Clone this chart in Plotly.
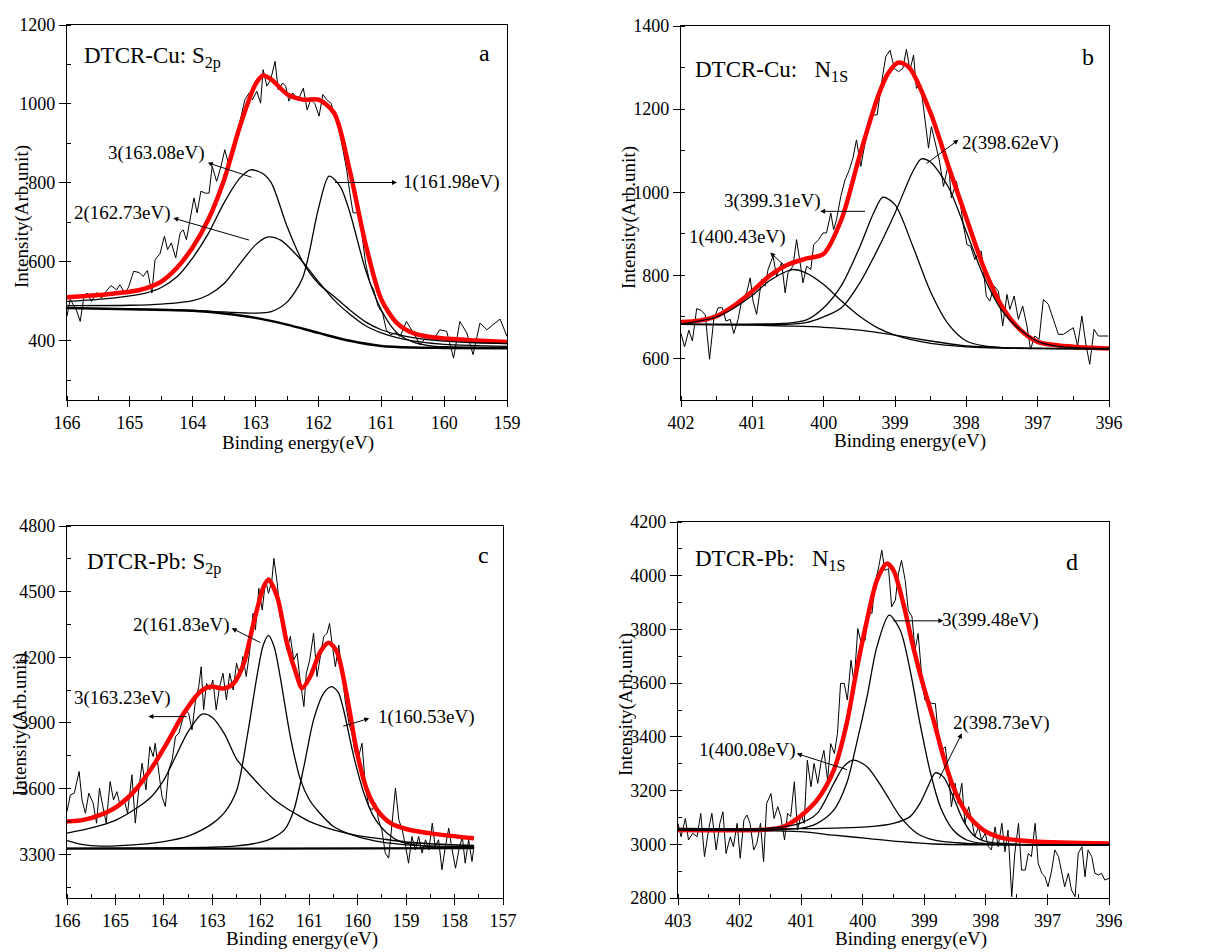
import plotly.graph_objects as go

# ---------------- Panel a : DTCR-Cu S2p ----------------
a_raw_x = [166.0, 165.95, 165.85, 165.79, 165.73, 165.68, 165.61, 165.53, 165.45, 165.38, 165.30, 165.21, 165.16,
           165.08, 165.02, 164.94, 164.85, 164.79, 164.72, 164.65, 164.60, 164.52, 164.45, 164.40, 164.34, 164.27,
           164.20, 164.15, 164.10, 164.03, 163.98, 163.93, 163.87, 163.80, 163.74, 163.69, 163.62, 163.55, 163.49,
           163.42, 163.35, 163.29, 163.24, 163.17, 163.10, 163.05, 162.98, 162.92, 162.88, 162.82, 162.76, 162.69,
           162.64, 162.57, 162.52, 162.47, 162.41, 162.32, 162.24, 162.18, 162.12, 162.06, 161.99, 161.93, 161.87,
           161.80, 161.75, 161.70, 161.63, 161.55, 161.50, 161.45, 161.38, 161.31, 161.25, 161.18, 161.12, 161.05,
           160.98, 160.92, 160.85, 160.78, 160.70, 160.60, 160.49, 160.38, 160.28, 160.17, 160.07, 159.96, 159.85,
           159.75, 159.64, 159.54, 159.43, 159.32, 159.22, 159.11, 159.00]
a_raw_y = [462, 505, 478, 449, 512, 521, 500, 522, 508, 525, 540, 529, 542,
           521, 536, 576, 573, 563, 578, 521, 605, 621, 665, 631, 648, 610,
           673, 681, 656, 715, 762, 724, 779, 774, 774, 842, 804, 842, 884,
           842, 893, 926, 960, 1011, 1028, 1011, 1032, 1002, 1087, 1045, 1061, 1108,
           1036, 1053, 1045, 1007, 1028, 1011, 1040, 985, 1011, 1002, 969, 1024, 1011,
           1002, 977, 964, 901, 833, 774, 724, 724, 673, 597, 546, 529, 487,
           470, 428, 415, 420, 411, 449, 420, 390, 411, 403, 428, 424, 356,
           449, 420, 365, 445, 428, 441, 455, 411]
a_fit_x = [166.0, 165.75, 165.5, 165.25, 165.0, 164.75, 164.5, 164.25, 164.0, 163.75, 163.5, 163.25, 163.0,
           162.88, 162.75, 162.5, 162.25, 162.0, 161.75, 161.5, 161.25, 161.0, 160.75, 160.5, 160.25, 160.0,
           159.5, 159.0]
a_fit_y = [510, 513, 516, 520, 524, 533, 550, 585, 637, 708, 808, 943, 1050,
           1072, 1062, 1025, 1011, 1011, 977, 830, 645, 505, 445, 420, 410, 406,
           401, 397]
a_c3_x = [166.0, 165.5, 165.0, 164.75, 164.5, 164.25, 164.0, 163.75, 163.5, 163.25, 163.08, 162.9, 162.75,
          162.5, 162.25, 162.0, 161.75, 161.5, 161.25, 161.0, 160.75, 160.5, 160.0, 159.5, 159.0]
a_c3_y = [500, 505, 514, 521, 535, 562, 610, 672, 750, 812, 833, 825, 800,
          690, 600, 545, 512, 478, 448, 428, 416, 408, 399, 395, 393]
a_c2_x = [166.0, 165.0, 164.5, 164.0, 163.75, 163.5, 163.25, 163.0, 162.8, 162.6, 162.5, 162.25, 162.0,
          161.75, 161.5, 161.25, 161.0, 160.75, 160.5, 160.0, 159.5, 159.0]
a_c2_y = [489, 490, 493, 502, 516, 545, 595, 643, 663, 655, 642, 600, 550,
          503, 467, 438, 420, 408, 400, 391, 388, 386]
a_c1_x = [166.0, 165.0, 164.0, 163.5, 163.0, 162.75, 162.5, 162.25, 162.0, 161.83, 161.65, 161.5, 161.25,
          161.0, 160.75, 160.5, 160.25, 160.0, 159.0]
a_c1_y = [483, 481, 477, 473, 470, 474, 498, 560, 735, 817, 790, 725, 580,
          478, 420, 397, 388, 385, 383]
a_bg_x = [166.0, 165.0, 164.0, 163.5, 163.0, 162.5, 162.0, 161.5, 161.0, 160.5, 160.0, 159.0]
a_bg_y = [483, 480, 476, 469, 458, 441, 420, 400, 387, 383, 382, 381]

# ---------------- Panel b : DTCR-Cu N1s ----------------
b_raw_x = [402.00, 401.95, 401.89, 401.84, 401.78, 401.72, 401.66, 401.60, 401.54, 401.48, 401.42, 401.37, 401.31,
           401.26, 401.20, 401.15, 401.08, 401.03, 400.99, 400.94, 400.87, 400.82, 400.78, 400.71, 400.66, 400.59,
           400.54, 400.50, 400.43, 400.38, 400.33, 400.29, 400.24, 400.18, 400.14, 400.07, 400.01, 399.96, 399.90,
           399.86, 399.82, 399.76, 399.70, 399.64, 399.59, 399.54, 399.48, 399.42, 399.36, 399.30, 399.25, 399.19,
           399.13, 399.07, 399.01, 398.95, 398.89, 398.84, 398.79, 398.74, 398.70, 398.64, 398.58, 398.53, 398.49,
           398.43, 398.38, 398.32, 398.25, 398.21, 398.14, 398.09, 398.04, 397.99, 397.94, 397.88, 397.83, 397.79,
           397.72, 397.67, 397.61, 397.55, 397.49, 397.43, 397.39, 397.33, 397.27, 397.21, 397.15, 397.10, 397.04,
           396.98, 396.92, 396.85, 396.78, 396.71, 396.64, 396.57, 396.50, 396.44, 396.38, 396.32, 396.27, 396.21,
           396.15, 396.08, 396.01]
b_raw_y = [660, 628, 668, 642, 720, 716, 705, 598, 694, 722, 722, 690, 694,
           660, 694, 738, 758, 794, 738, 706, 790, 774, 814, 846, 798, 830,
           758, 806, 822, 886, 830, 782, 822, 814, 874, 886, 902, 902, 950,
           910, 934, 990, 1030, 1054, 1082, 1126, 1062, 1118, 1174, 1186, 1186, 1262,
           1326, 1342, 1298, 1290, 1298, 1344, 1294, 1330, 1250, 1258, 1174, 1106, 1158,
           1110, 1078, 1014, 1070, 986, 1026, 982, 918, 874, 870, 838, 854, 858,
           750, 738, 774, 762, 678, 754, 718, 750, 694, 726, 678, 622, 654,
           646, 742, 730, 694, 658, 658, 666, 674, 630, 702, 630, 586, 670,
           654, 654, 654]
b_fit_x = [402.0, 401.75, 401.5, 401.25, 401.0, 400.75, 400.5, 400.25, 400.0, 399.75, 399.5, 399.25, 399.1,
           398.95, 398.8, 398.5, 398.25, 398.0, 397.75, 397.5, 397.25, 397.0, 396.5, 396.0]
b_fit_y = [688, 691, 702, 728, 762, 800, 826, 840, 852, 935, 1085, 1225, 1285,
           1312, 1300, 1190, 1062, 938, 816, 725, 670, 640, 628, 624]
b_c1_x = [402.0, 401.75, 401.5, 401.25, 401.0, 400.75, 400.5, 400.43, 400.25, 400.0, 399.75, 399.5, 399.25,
          399.0, 398.5, 398.0, 397.5, 396.0]
b_c1_y = [683, 690, 700, 722, 752, 788, 811, 814, 806, 778, 738, 702, 674,
          656, 636, 628, 625, 623]
b_c3_x = [402.0, 400.5, 400.25, 400.0, 399.75, 399.5, 399.3, 399.17, 399.0, 398.75, 398.5, 398.25, 398.0,
          397.75, 397.5, 397.0, 396.0]
b_c3_y = [683, 685, 692, 722, 776, 866, 950, 988, 970, 870, 760, 682, 642,
          630, 626, 624, 623]
b_c2_x = [402.0, 401.0, 400.5, 400.25, 400.0, 399.75, 399.5, 399.25, 399.0, 398.75, 398.63, 398.5, 398.25,
          398.0, 397.75, 397.5, 397.25, 397.0, 396.75, 396.5, 396.0]
b_c2_y = [682, 681, 682, 686, 700, 722, 780, 860, 950, 1050, 1080, 1072, 1012,
          905, 795, 715, 670, 641, 630, 626, 624]
b_bg_x = [402.0, 401.0, 400.5, 400.0, 399.5, 399.0, 398.5, 398.0, 397.5, 397.0, 396.0]
b_bg_y = [682, 680, 678, 675, 668, 656, 642, 630, 626, 624, 623]

# ---------------- Panel c : DTCR-Pb S2p ----------------
c_raw_x = [166.00, 165.93, 165.85, 165.75, 165.69, 165.62, 165.55, 165.46, 165.39, 165.33, 165.26, 165.19, 165.11,
           165.04, 164.97, 164.90, 164.82, 164.75, 164.66, 164.59, 164.52, 164.45, 164.37, 164.29, 164.22, 164.18,
           164.11, 164.04, 163.97, 163.90, 163.83, 163.76, 163.69, 163.63, 163.56, 163.49, 163.42, 163.35, 163.28,
           163.23, 163.18, 163.12, 163.05, 162.99, 162.92, 162.85, 162.78, 162.71, 162.64, 162.57, 162.50, 162.43,
           162.37, 162.30, 162.23, 162.16, 162.11, 162.04, 161.97, 161.90, 161.84, 161.77, 161.73, 161.66, 161.60,
           161.53, 161.46, 161.39, 161.32, 161.25, 161.18, 161.11, 161.06, 160.99, 160.91, 160.84, 160.77, 160.70,
           160.63, 160.58, 160.53, 160.46, 160.39, 160.32, 160.25, 160.18, 160.12, 160.05, 159.98, 159.91, 159.84,
           159.77, 159.70, 159.63, 159.57, 159.50, 159.43, 159.36, 159.29, 159.22, 159.15, 159.08, 159.01, 158.95,
           158.88, 158.81, 158.74, 158.67, 158.60, 158.53, 158.46, 158.40, 158.33, 158.26, 158.19, 158.12, 158.05,
           157.98, 157.91, 157.84, 157.78, 157.71, 157.64, 157.60]
c_raw_y = [3495, 3571, 3579, 3678, 3548, 3487, 3579, 3533, 3442, 3602, 3518, 3442, 3632,
           3548, 3586, 3518, 3548, 3487, 3663, 3442, 3594, 3716, 3594, 3792, 3746, 3807,
           3685, 3564, 3518, 3685, 3731, 3838, 3853, 3899, 3960, 3944, 3868, 3998, 4066,
           4157, 3960, 4081, 4051, 4096, 3960, 4066, 4127, 4005, 4127, 4051, 4173, 4112,
           4203, 4112, 4226, 4401, 4325, 4515, 4416, 4553, 4492, 4553, 4652, 4538, 4386,
           4325, 4234, 4295, 4188, 4218, 4081, 3975, 4127, 4188, 4310, 4112, 4203, 4295,
           4310, 4355, 4264, 4157, 4256, 4112, 3990, 3899, 3853, 3761, 3746, 3807, 3609,
           3518, 3503, 3533, 3457, 3411, 3305, 3282, 3442, 3602, 3457, 3411, 3335, 3259,
           3381, 3320, 3381, 3305, 3366, 3320, 3442, 3335, 3366, 3229, 3335, 3419, 3320,
           3236, 3320, 3381, 3259, 3366, 3267, 3335]
c_fit_x = [166.0, 165.66, 165.31, 164.97, 164.62, 164.28, 163.94, 163.59, 163.25, 163.04, 162.77, 162.56, 162.35,
           162.15, 161.94, 161.84, 161.66, 161.46, 161.25, 161.15, 160.98, 160.77, 160.6, 160.43, 160.22, 160.01,
           159.81, 159.6, 159.32, 158.98, 158.43, 157.6]
c_fit_y = [3449, 3457, 3480, 3518, 3586, 3685, 3807, 3944, 4043, 4066, 4058, 4081, 4173,
           4355, 4523, 4556, 4476, 4264, 4112, 4058, 4112, 4226, 4267, 4226, 4020, 3761,
           3594, 3503, 3442, 3414, 3393, 3373]
c_c3_x = [166.0, 165.5, 165.0, 164.5, 164.25, 164.0, 163.75, 163.5, 163.21, 163.0, 162.75, 162.5, 162.25,
          162.0, 161.75, 161.5, 161.18, 161.0, 160.5, 160.0, 159.5, 159.0, 158.5, 157.6]
c_c3_y = [3396, 3420, 3455, 3520, 3565, 3640, 3750, 3860, 3940, 3925, 3850, 3735, 3670,
          3610, 3555, 3515, 3472, 3450, 3411, 3385, 3370, 3356, 3348, 3340]
c_c2_x = [166.0, 165.7, 165.3, 164.5, 164.0, 163.5, 163.0, 162.75, 162.5, 162.28, 162.08, 161.95, 161.84,
          161.72, 161.6, 161.39, 161.18, 161.0, 160.84, 160.5, 160.0, 159.5, 159.0, 158.5, 157.6]
c_c2_y = [3362, 3345, 3337, 3345, 3358, 3383, 3440, 3490, 3590, 3838, 4112, 4255, 4300,
          4245, 4112, 3838, 3640, 3550, 3503, 3427, 3380, 3355, 3343, 3338, 3335]
c_c1_x = [166.0, 163.0, 162.5, 162.0, 161.75, 161.5, 161.32, 161.11, 160.91, 160.7, 160.54, 160.4, 160.29,
          160.08, 159.87, 159.67, 159.39, 159.12, 158.5, 157.6]
c_c1_y = [3328, 3332, 3338, 3355, 3375, 3415, 3500, 3700, 3914, 4036, 4066, 4040, 3959,
          3746, 3579, 3472, 3396, 3358, 3335, 3328]
c_bg_x = [166.0, 162.0, 157.6]
c_bg_y = [3325, 3326, 3328]

# ---------------- Panel d : DTCR-Pb N1s ----------------
d_raw_x = [403.00, 402.95, 402.88, 402.83, 402.76, 402.69, 402.63, 402.57, 402.50, 402.45, 402.38, 402.32, 402.27,
           402.22, 402.15, 402.10, 402.04, 401.99, 401.93, 401.88, 401.83, 401.77, 401.72, 401.66, 401.61, 401.56,
           401.49, 401.44, 401.38, 401.33, 401.27, 401.22, 401.17, 401.11, 401.06, 401.00, 400.95, 400.90, 400.84,
           400.79, 400.73, 400.68, 400.63, 400.57, 400.52, 400.46, 400.41, 400.36, 400.30, 400.25, 400.19, 400.14,
           400.08, 400.03, 399.96, 399.91, 399.85, 399.80, 399.74, 399.69, 399.64, 399.58, 399.53, 399.47, 399.42,
           399.37, 399.31, 399.26, 399.20, 399.15, 399.10, 399.04, 398.99, 398.93, 398.88, 398.82, 398.77, 398.72,
           398.66, 398.61, 398.56, 398.50, 398.45, 398.39, 398.34, 398.28, 398.23, 398.18, 398.12, 398.07, 398.01,
           397.96, 397.91, 397.85, 397.80, 397.74, 397.69, 397.64, 397.58, 397.53, 397.47, 397.42, 397.36, 397.31,
           397.26, 397.20, 397.15, 397.09, 397.04, 396.99, 396.93, 396.88, 396.82, 396.77, 396.72, 396.66, 396.61,
           396.55, 396.50, 396.44, 396.39, 396.34, 396.28, 396.23, 396.17, 396.12, 396.07, 396.00]
d_raw_y = [3078, 3028, 3096, 3016, 3041, 3028, 3115, 2954, 3059, 3115, 2979, 3078, 3121,
           2966, 3028, 2991, 3078, 2948, 3090, 3109, 3078, 2979, 3003, 3078, 2935, 3152,
           3189, 3096, 3140, 3103, 3016, 3115, 3103, 3233, 3053, 3109, 3078, 3313, 3214,
           3301, 3227, 3301, 3350, 3239, 3375, 3338, 3413, 3599, 3599, 3537, 3685, 3599,
           3803, 3754, 3760, 3871, 3859, 3971, 4033, 4095, 4020, 4026, 3884, 3909, 4008,
           4057, 3983, 3871, 3847, 3723, 3785, 3623, 3537, 3537, 3524, 3524, 3400, 3350,
           3363, 3276, 3140, 3227, 3152, 3227, 3078, 3140, 3090, 3028, 3065, 3016, 3041,
           2991, 2979, 3065, 2991, 3078, 2972, 3053, 2805, 2966, 3078, 2904, 2904, 2966,
           2954, 3078, 2929, 2892, 2879, 2842, 2904, 2979, 2954, 2904, 2842, 2892, 2830,
           2805, 2966, 2991, 2879, 2979, 2954, 2892, 2886, 2892, 2867, 2873]
d_fit_x = [403.0, 401.56, 401.29, 401.02, 400.74, 400.47, 400.26, 400.10, 399.93, 399.77, 399.61, 399.5, 399.34,
           399.18, 399.01, 398.85, 398.69, 398.53, 398.31, 398.04, 397.77, 397.23, 396.0]
d_fit_y = [3053, 3055, 3065, 3103, 3165, 3276, 3450, 3648, 3834, 3983, 4045, 4020, 3896,
           3735, 3586, 3462, 3326, 3214, 3115, 3053, 3026, 3010, 3003]
d_c3_x = [403.0, 401.02, 400.74, 400.47, 400.26, 400.10, 399.93, 399.77, 399.57, 399.39, 399.23, 399.07, 398.91,
          398.74, 398.53, 398.31, 398.04, 396.0]
d_c3_y = [3055, 3059, 3078, 3127, 3227, 3375, 3549, 3735, 3853, 3797, 3648, 3450, 3276,
          3140, 3053, 3016, 3003, 2997]
d_c1_x = [403.0, 401.56, 401.02, 400.74, 400.47, 400.31, 400.15, 399.93, 399.66, 399.39, 399.12, 398.85, 398.31, 396.0]
d_c1_y = [3055, 3059, 3078, 3115, 3227, 3289, 3313, 3289, 3202, 3103, 3041, 3016, 3003, 2997]
d_c2_x = [403.0, 401.0, 399.93, 399.5, 399.23, 399.07, 398.93, 398.82, 398.69, 398.53, 398.37, 398.2, 397.99, 396.0]
d_c2_y = [3059, 3058, 3065, 3078, 3103, 3152, 3220, 3266, 3251, 3177, 3090, 3034, 3010, 2998]
d_bg_x = [403.0, 401.02, 400.47, 399.93, 399.39, 398.85, 398.0, 396.0]
d_bg_y = [3053, 3047, 3034, 3022, 3010, 3001, 2998, 2997]

# ---------------- figure ----------------
OFF = 8                      # page body margin of the browser
W, H = 1214 - OFF, 952 - OFF
FONT = "Liberation Serif"
RED = "#ff0000"

fig = go.Figure()


def add_panel(n, raw, fit, comps, bg, bgw):
    xa, ya = ("x", "y") if n == 1 else (f"x{n}", f"y{n}")
    fig.add_trace(go.Scatter(x=raw[0], y=raw[1], mode="lines", xaxis=xa, yaxis=ya,
                             line=dict(color="black", width=1), showlegend=False))
    fig.add_trace(go.Scatter(x=fit[0], y=fit[1], mode="lines", xaxis=xa, yaxis=ya,
                             line=dict(color=RED, width=4.5, shape="spline", smoothing=0.8), showlegend=False))
    for cx, cy in comps:
        fig.add_trace(go.Scatter(x=cx, y=cy, mode="lines", xaxis=xa, yaxis=ya,
                                 line=dict(color="black", width=1.3, shape="spline", smoothing=0.8),
                                 showlegend=False))
    fig.add_trace(go.Scatter(x=bg[0], y=bg[1], mode="lines", xaxis=xa, yaxis=ya,
                             line=dict(color="black", width=bgw, shape="spline", smoothing=0.8), showlegend=False))


add_panel(1, (a_raw_x, a_raw_y), (a_fit_x, a_fit_y),
          [(a_c3_x, a_c3_y), (a_c2_x, a_c2_y), (a_c1_x, a_c1_y)], (a_bg_x, a_bg_y), 2.5)
add_panel(2, (b_raw_x, b_raw_y), (b_fit_x, b_fit_y),
          [(b_c1_x, b_c1_y), (b_c3_x, b_c3_y), (b_c2_x, b_c2_y)], (b_bg_x, b_bg_y), 1.3)
add_panel(3, (c_raw_x, c_raw_y), (c_fit_x, c_fit_y),
          [(c_c3_x, c_c3_y), (c_c2_x, c_c2_y), (c_c1_x, c_c1_y)], (c_bg_x, c_bg_y), 2.2)
add_panel(4, (d_raw_x, d_raw_y), (d_fit_x, d_fit_y),
          [(d_c3_x, d_c3_y), (d_c1_x, d_c1_y), (d_c2_x, d_c2_y)], (d_bg_x, d_bg_y), 1.3)

TICKFONT = dict(family=FONT, size=18, color="black")


def fx(px):
    return (px - OFF) / W


def fy(py):
    return 1 - (py - OFF) / H


def xaxis(px0, px1, rng, anchor):
    return dict(domain=[fx(px0), fx(px1)], range=rng, anchor=anchor, dtick=1, tick0=0,
                automargin=False,
                ticks="outside", ticklen=6, tickwidth=1.2, tickcolor="black",
                showline=True, linewidth=1.3, linecolor="black", mirror=True,
                showgrid=False, zeroline=False, tickfont=TICKFONT,
                minor=dict(dtick=0.5, ticks="inside", ticklen=4, tickcolor="black", tickwidth=1, showgrid=False))


def yaxis(py0, py1, rng, dt, anchor):
    return dict(domain=[fy(py1), fy(py0)], range=rng, anchor=anchor, dtick=dt, tick0=0,
                automargin=False,
                ticks="outside", ticklen=7, tickwidth=1.2, tickcolor="black",
                showline=True, linewidth=1.3, linecolor="black", mirror=True,
                showgrid=False, zeroline=False, tickfont=TICKFONT,
                minor=dict(dtick=dt / 2, ticks="inside", ticklen=4, tickcolor="black", tickwidth=1, showgrid=False))


fig.update_layout(
    width=W, height=H, margin=dict(l=0, r=0, t=0, b=0, pad=0, autoexpand=False),
    paper_bgcolor="white", plot_bgcolor="white",
    font=dict(family=FONT, color="black"),
    xaxis=xaxis(67, 507, [166, 159], "y"),
    yaxis=yaxis(25, 400, [250, 1200], 200, "x"),
    xaxis2=xaxis(681, 1109, [402, 396], "y2"),
    yaxis2=yaxis(26, 400, [500, 1400], 200, "x2"),
    xaxis3=xaxis(67, 503, [166, 157], "y3"),
    yaxis3=yaxis(526, 898, [3100, 4800], 300, "x3"),
    xaxis4=xaxis(678, 1109, [403, 396], "y4"),
    yaxis4=yaxis(522, 898, [2800, 4200], 200, "x4"),
)

ann = []


def ptext(px, py, text, size, xanchor="center", angle=0):
    ann.append(dict(x=fx(px), y=fy(py), xref="paper", yref="paper", text=text, showarrow=False,
                    xanchor=xanchor, yanchor="middle", textangle=angle,
                    font=dict(family=FONT, size=size, color="black")))


# panel titles and letters
ptext(82, 57, "DTCR-Cu: S<sub>2p</sub>", 23, "left")
ptext(693, 71, "DTCR-Cu:&nbsp;&nbsp;&nbsp;N<sub>1S</sub>", 23, "left")
ptext(85, 563, "DTCR-Pb: S<sub>2p</sub>", 23, "left")
ptext(693, 560, "DTCR-Pb:&nbsp;&nbsp;&nbsp;N<sub>1S</sub>", 23, "left")
ptext(485, 53, "a", 24)
ptext(1088, 57, "b", 24)
ptext(483, 555, "c", 24)
ptext(1072, 562, "d", 24)
# axis titles
for cx, cy in [(298, 443), (910, 441), (302, 939), (911, 939)]:
    ptext(cx, cy, "Binding energy(eV)", 19)
for cx, cy in [(22, 217), (629, 218), (20, 725), (626, 705)]:
    ptext(cx, cy, "Intensity(Arb.unit)", 19, angle=-90)


def dtext(n, x, y, text):
    xr, yr = ("x", "y") if n == 1 else (f"x{n}", f"y{n}")
    ann.append(dict(x=x, y=y, xref=xr, yref=yr, text=text, showarrow=False, xanchor="center",
                    yanchor="middle", font=dict(family=FONT, size=19, color="black")))


def arrow(n, tx, ty, hx, hy):
    xr, yr = ("x", "y") if n == 1 else (f"x{n}", f"y{n}")
    ann.append(dict(x=hx, y=hy, ax=tx, ay=ty, xref=xr, yref=yr, axref=xr, ayref=yr, text="",
                    showarrow=True, arrowhead=2, arrowsize=1, arrowwidth=1, arrowcolor="black", standoff=0))


# panel a labels
dtext(1, 164.57, 876, "3(163.08eV)")
arrow(1, 163.04, 813, 163.76, 851)
dtext(1, 165.11, 724, "2(162.73eV)")
arrow(1, 163.08, 654, 164.31, 711)
dtext(1, 159.89, 803, "1(161.98eV)")
arrow(1, 161.76, 801, 160.75, 801)
# panel b labels
dtext(2, 397.38, 1118, "2(398.62eV)")
arrow(2, 398.58, 1066, 398.11, 1126)
dtext(2, 400.72, 978, "3(399.31eV)")
arrow(2, 399.40, 954, 400.05, 954)
dtext(2, 401.21, 893, "1(400.43eV)")
arrow(2, 400.54, 822, 400.75, 855)
# panel c labels
dtext(3, 163.63, 4348, "2(161.83eV)")
arrow(3, 161.98, 4264, 162.60, 4333)
dtext(3, 164.85, 4014, "3(163.23eV)")
arrow(3, 163.50, 3929, 164.32, 3929)
dtext(3, 158.57, 3929, "1(160.53eV)")
arrow(3, 160.33, 3883, 159.76, 3921)
# panel d labels
dtext(4, 397.92, 3834, "3(399.48eV)")
arrow(4, 399.53, 3832, 398.69, 3832)
dtext(4, 397.74, 3450, "2(398.73eV)")
arrow(4, 398.77, 3239, 398.39, 3413)
dtext(4, 401.87, 3351, "1(400.08eV)")
arrow(4, 400.23, 3276, 401.07, 3338)

fig.update_layout(annotations=ann)
fig.write_html("out.html")
